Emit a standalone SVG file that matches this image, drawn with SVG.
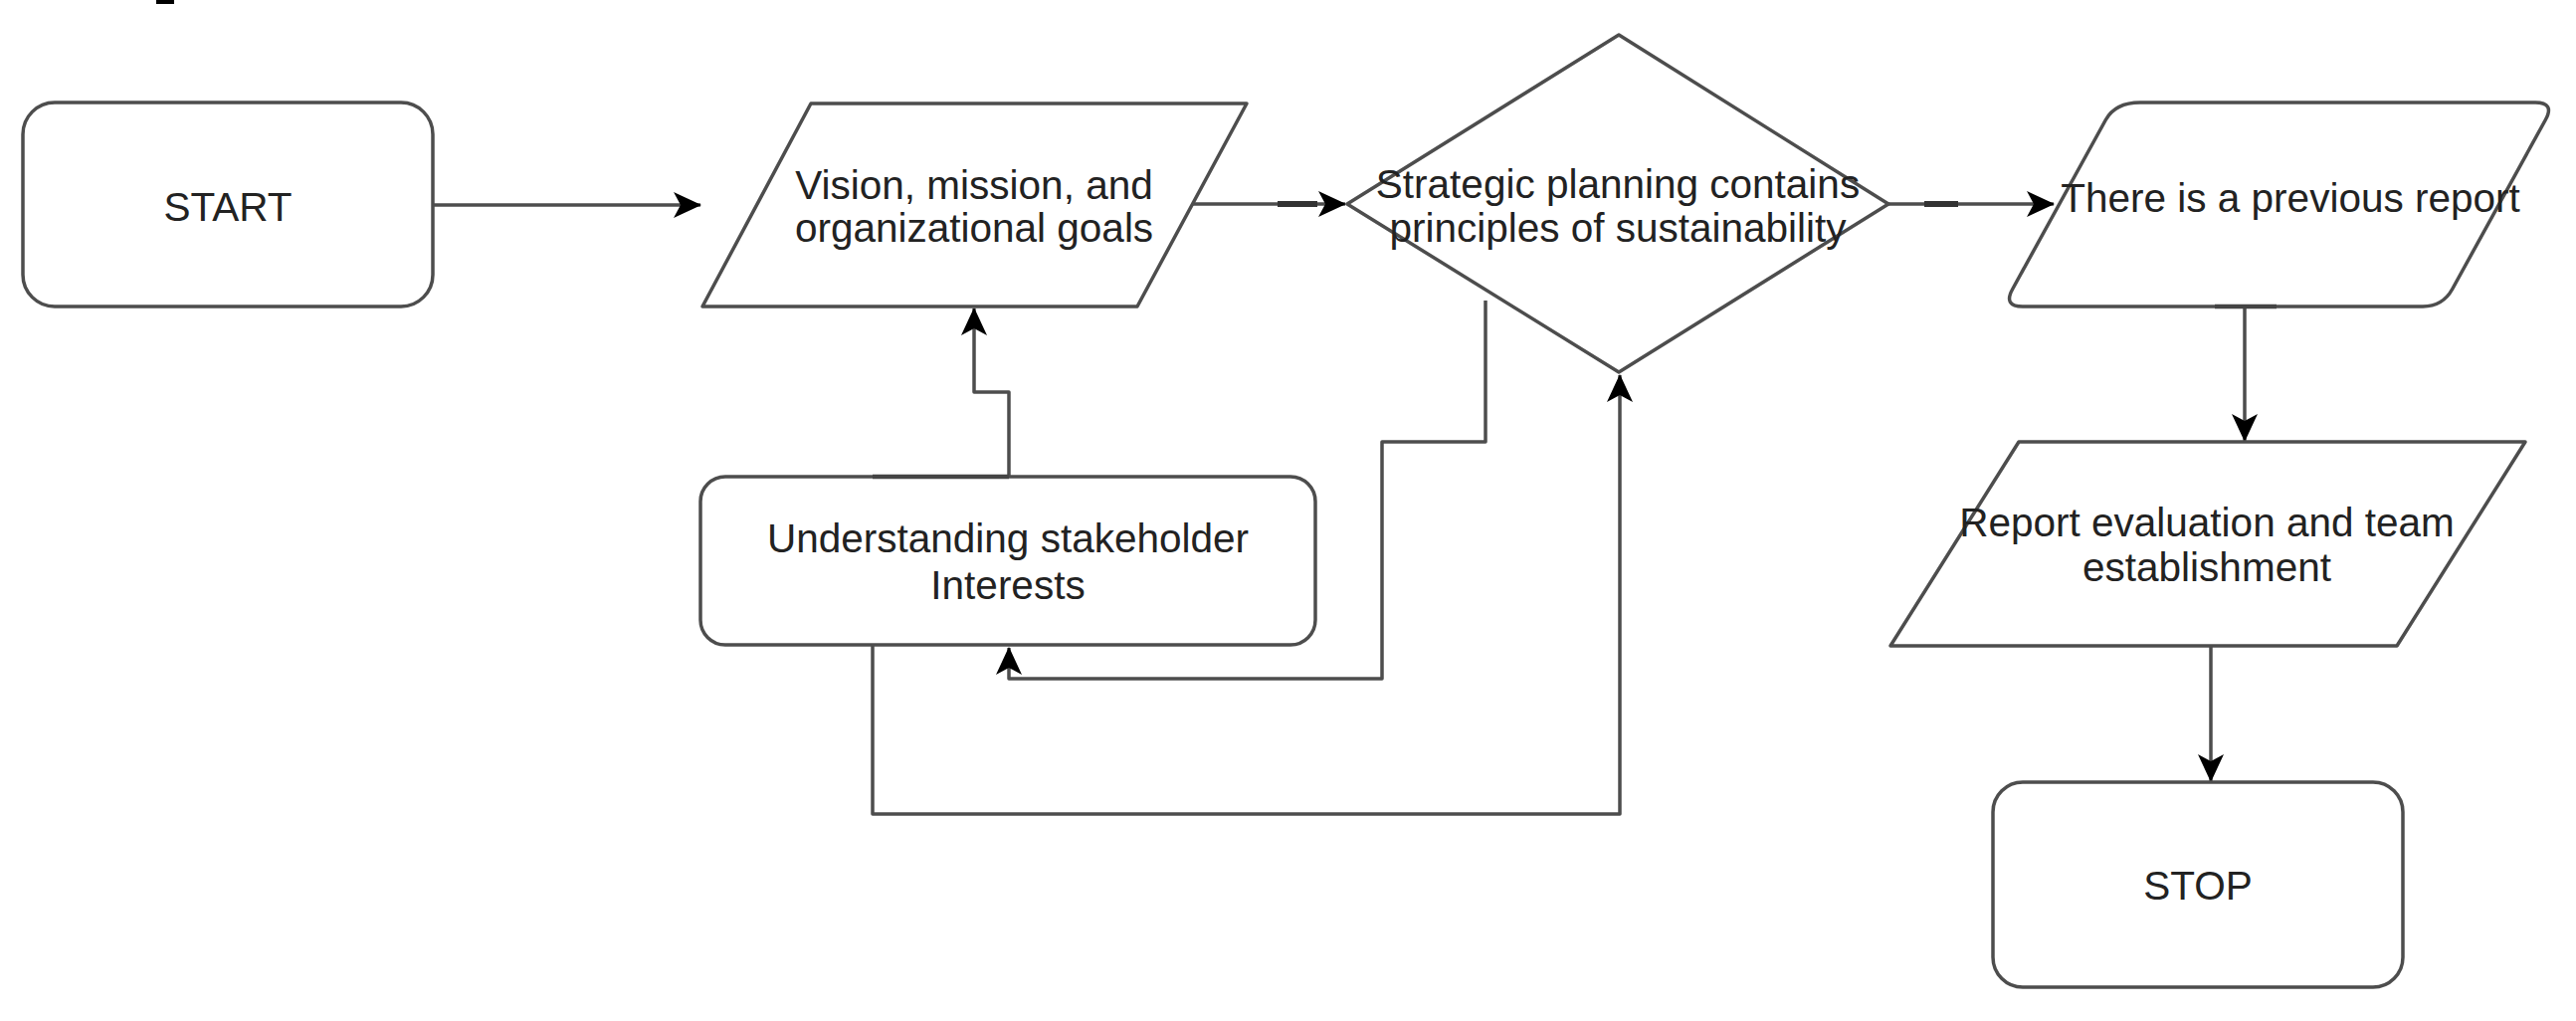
<svg xmlns="http://www.w3.org/2000/svg" width="2589" height="1026" viewBox="0 0 2589 1026">
<style>
.shape{fill:#ffffff;stroke:#4d4d4d;stroke-width:3.5;stroke-linejoin:round}
.edge{fill:none;stroke:#4d4d4d;stroke-width:3.5;stroke-linejoin:round}
.thick{fill:none;stroke:#333333;stroke-width:6}
.lbl{font-family:"Liberation Sans",Arial,sans-serif;font-size:40.5px;fill:#222222;text-anchor:middle}
</style>
<defs>
<marker id="arr" markerUnits="userSpaceOnUse" viewBox="0 -14 28 28" refX="27" refY="0" markerWidth="28" markerHeight="28" orient="auto">
<path d="M0,-13 L28,0 L0,13 L7,0 Z" fill="#000000"/>
</marker>
</defs>
<rect width="2589" height="1026" fill="#ffffff"/>
<rect x="157" y="0" width="18" height="4" fill="#000000"/>

<g id="connectors">
<path class="edge" d="M435,206 H704" marker-end="url(#arr)"/>
<path class="edge" d="M1199,205 H1352" marker-end="url(#arr)"/>
<path class="thick" d="M1284,205 H1324"/>
<path class="edge" d="M1898,205 H2064" marker-end="url(#arr)"/>
<path class="thick" d="M1934,205 H1968"/>
<path class="edge" d="M1014,479 V394 H979 V310" marker-end="url(#arr)"/>
<path class="edge" d="M1493,302 V444 H1389 V682 H1014 V651" marker-end="url(#arr)"/>
<path class="edge" d="M877,648 V818 H1628 V377" marker-end="url(#arr)"/>
<path class="edge" d="M2256,308 V443" marker-end="url(#arr)"/>
<path class="edge" d="M2222,649 V785" marker-end="url(#arr)"/>
</g>

<g id="start">
<rect class="shape" x="23" y="103" width="412" height="205" rx="32" ry="32"/>
<text class="lbl" x="229" y="222">START</text>
</g>

<g id="vision">
<polygon class="shape" points="815,104 1253,104 1143,308 706,308"/>
<text class="lbl" x="979" y="200">Vision, mission, and</text>
<text class="lbl" x="979" y="243">organizational goals</text>
</g>

<g id="strategic">
<polygon class="shape" points="1627,35 1898,205 1627,374 1354,205"/>
<text class="lbl" x="1626" y="199">Strategic planning contains</text>
<text class="lbl" x="1626" y="243">principles of sustainability</text>
</g>

<g id="stakeholder">
<rect class="shape" x="704" y="479" width="618" height="169" rx="25" ry="25"/>
<path class="thick" d="M877,479 H1014" style="stroke-width:4.5;stroke:#444444"/>
<text class="lbl" x="1013" y="555">Understanding stakeholder</text>
<text class="lbl" x="1013" y="602">Interests</text>
</g>

<g id="previous">
<path class="shape" d="M2151,103 H2548 Q2568,103 2558.3,120.5 L2464.7,290.5 Q2455,308 2435,308 H2033 Q2013,308 2022.7,290.5 L2116.3,120.5 Q2126,103 2151,103 Z"/>
<path class="thick" d="M2226,308 H2288" style="stroke-width:4.5;stroke:#444444"/>
<text class="lbl" x="2302" y="213">There is a previous report</text>
</g>

<g id="evaluation">
<polygon class="shape" points="2029,444 2538,444 2409,649 1900,649"/>
<text class="lbl" x="2218" y="539">Report evaluation and team</text>
<text class="lbl" x="2218" y="584">establishment</text>
</g>

<g id="stop">
<rect class="shape" x="2003" y="786" width="412" height="206" rx="30" ry="30"/>
<text class="lbl" x="2209" y="904">STOP</text>
</g>
</svg>
